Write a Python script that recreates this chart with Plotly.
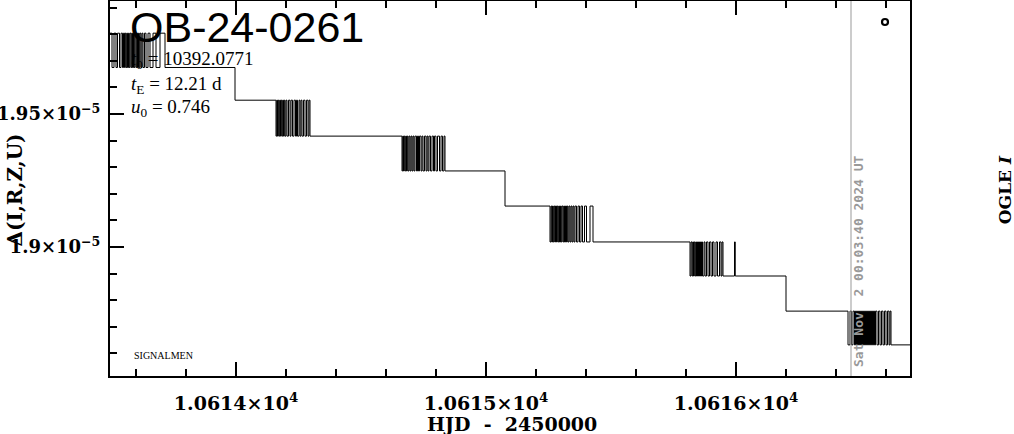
import plotly.graph_objects as go

# Flux levels (units of 1e-5)
levels = [1.9804, 1.9675, 1.9552, 1.9417, 1.9286, 1.9154, 1.9019, 1.8891, 1.8759, 1.8632]

# Plateau / step points: (HJD-2450000, level index)
steps_start = [(10613.496, 0)]
step_2 = [(10613.996, 2)]
step_5 = [(10615.076, 5)]
spike_e = [(10615.994, 6), (10615.997, 7)]
step_8 = [(10616.200, 8)]
end_pt = [(10616.696, 9)]

# Noisy blocks: transition times, flipping between an upper and lower level
block_a_t = [10613.504, 10613.512, 10613.520, 10613.526, 10613.534, 10613.540, 10613.546, 10613.550,
             10613.554, 10613.557, 10613.560, 10613.563, 10613.566, 10613.570, 10613.573, 10613.576,
             10613.580, 10613.583, 10613.586, 10613.590, 10613.593, 10613.596, 10613.600, 10613.603,
             10613.606, 10613.610, 10613.613, 10613.616, 10613.620, 10613.624, 10613.628, 10613.634,
             10613.640, 10613.648, 10613.656, 10613.668, 10613.680, 10613.696, 10613.716]
block_b_t = [10614.160, 10614.163, 10614.166, 10614.169, 10614.172, 10614.175, 10614.178, 10614.181,
             10614.184, 10614.187, 10614.190, 10614.193, 10614.196, 10614.200, 10614.204, 10614.210,
             10614.216, 10614.220, 10614.226, 10614.232, 10614.238, 10614.242, 10614.246, 10614.252,
             10614.256, 10614.260, 10614.264, 10614.270, 10614.276, 10614.282, 10614.288, 10614.292,
             10614.296]
block_c_t = [10614.664, 10614.667, 10614.670, 10614.673, 10614.676, 10614.679, 10614.682, 10614.685,
             10614.688, 10614.692, 10614.696, 10614.700, 10614.704, 10614.708, 10614.712, 10614.716,
             10614.722, 10614.726, 10614.730, 10614.734, 10614.740, 10614.744, 10614.748, 10614.754,
             10614.760, 10614.764, 10614.768, 10614.772, 10614.778, 10614.784, 10614.790, 10614.794,
             10614.800, 10614.806, 10614.814, 10614.820, 10614.826, 10614.832, 10614.836]
block_d_t = [10615.256, 10615.260, 10615.263, 10615.266, 10615.269, 10615.272, 10615.275, 10615.278,
             10615.282, 10615.285, 10615.288, 10615.291, 10615.294, 10615.298, 10615.301, 10615.304,
             10615.308, 10615.311, 10615.314, 10615.318, 10615.322, 10615.325, 10615.328, 10615.332,
             10615.336, 10615.340, 10615.344, 10615.348, 10615.352, 10615.356, 10615.362, 10615.368,
             10615.374, 10615.380, 10615.386, 10615.394, 10615.402, 10615.416, 10615.428]
block_e_t = [10615.816, 10615.820, 10615.824, 10615.827, 10615.830, 10615.833, 10615.836, 10615.839,
             10615.842, 10615.846, 10615.850, 10615.854, 10615.858, 10615.862, 10615.866, 10615.872,
             10615.876, 10615.882, 10615.888, 10615.894, 10615.900, 10615.906, 10615.912, 10615.920,
             10615.926, 10615.934, 10615.940, 10615.944, 10615.948]
block_f_t = [10616.448, 10616.456, 10616.462, 10616.468, 10616.474, 10616.478, 10616.482, 10616.486,
             10616.490, 10616.494, 10616.498, 10616.502, 10616.506, 10616.510, 10616.514, 10616.518,
             10616.522, 10616.526, 10616.530, 10616.534, 10616.538, 10616.542, 10616.546, 10616.550,
             10616.554, 10616.558, 10616.564, 10616.570, 10616.576, 10616.582, 10616.588, 10616.594,
             10616.600, 10616.606, 10616.612, 10616.616, 10616.620]
# (times, upper level index, lower level index)
blocks = {"a": (block_a_t, 0, 1), "b": (block_b_t, 2, 3), "c": (block_c_t, 3, 4),
          "d": (block_d_t, 5, 6), "e": (block_e_t, 6, 7), "f": (block_f_t, 8, 9)}

now_hjd = 10616.460
now_label = "Sat Nov\u00a0\u00a02 00:03:40 2024 UT"
marker_pt = (10616.596, 1.9846)

x_tickvals = [10614, 10615, 10616]
x_ticktext = ["1.0614×10<sup>4</sup>", "1.0615×10<sup>4</sup>", "1.0616×10<sup>4</sup>"]
y_tickvals = [1.90e-5, 1.95e-5]
y_ticktext = ["1.9×10<sup>−5</sup>", "1.95×10<sup>−5</sup>"]


def block_pts(name):
    times, up, lo = blocks[name]
    return [(t, lo if i % 2 == 0 else up) for i, t in enumerate(times)]


seq = (steps_start + block_pts("a") + step_2 + block_pts("b") + block_pts("c") + step_5
       + block_pts("d") + block_pts("e") + spike_e + step_8 + block_pts("f") + end_pt)
hjd = [p[0] for p in seq]
delta = [levels[p[1]] * 1e-5 for p in seq]

fig = go.Figure()
fig.add_trace(go.Scatter(x=hjd, y=delta, mode="lines", line=dict(color="black", width=1, shape="hv"),
                         showlegend=False, hoverinfo="skip"))
fig.add_trace(go.Scatter(x=[marker_pt[0]], y=[marker_pt[1] * 1e-5], mode="markers",
                         marker=dict(symbol="circle-open", size=6, color="black", line=dict(width=2.2)),
                         showlegend=False, hoverinfo="skip"))
fig.add_shape(type="line", xref="x", yref="paper", x0=now_hjd, x1=now_hjd, y0=0, y1=1,
              line=dict(color="#999999", width=1))

serif = "DejaVu Serif"
tickfont = dict(family=serif, size=19, color="black", weight="bold")
fig.update_xaxes(range=[10613.496, 10616.696], tickvals=x_tickvals, ticktext=x_ticktext,
                 ticks="inside", ticklen=14, tickwidth=1.5, tickcolor="black",
                 minor=dict(dtick=0.2, tick0=10614, ticks="inside", ticklen=7, tickwidth=1.5, tickcolor="black"),
                 showline=True, linewidth=2, linecolor="black", mirror="allticks", automargin=False,
                 showgrid=False, zeroline=False, tickfont=tickfont, ticklabelstandoff=9)
fig.update_yaxes(range=[1.8515e-5, 1.9925e-5], tickvals=y_tickvals, ticktext=y_ticktext,
                 ticks="inside", ticklen=14, tickwidth=1.5, tickcolor="black",
                 minor=dict(dtick=1e-7, tick0=1.9e-5, ticks="inside", ticklen=7, tickwidth=1.5, tickcolor="black"),
                 showline=True, linewidth=2, linecolor="black", mirror=True, automargin=False,
                 showgrid=False, zeroline=False, tickfont=dict(family=serif, size=18, color="black", weight="bold"),
                 ticklabelstandoff=4)

nb = "\u00a0"
ann = []
ann.append(dict(text="OB-24-0261", x=0.022, y=1.0, xref="paper", yref="paper", xanchor="left", yanchor="top",
                showarrow=False, font=dict(family="Liberation Sans", size=43, color="black")))
param_font = dict(family="Liberation Serif", size=19, color="black")
ann.append(dict(text=f"<i>t</i><sub>0</sub>{nb}={nb}10392.0771", x=0.024, y=0.843, xref="paper", yref="paper",
                xanchor="left", yanchor="middle", showarrow=False, font=param_font))
ann.append(dict(text=f"<i>t</i><sub>E</sub>{nb}={nb}12.21{nb}d", x=0.024, y=0.776, xref="paper", yref="paper",
                xanchor="left", yanchor="middle", showarrow=False, font=param_font))
ann.append(dict(text=f"<i>u</i><sub>0</sub>{nb}={nb}0.746", x=0.024, y=0.715, xref="paper", yref="paper",
                xanchor="left", yanchor="middle", showarrow=False, font=param_font))
ann.append(dict(text="SIGNALMEN", x=0.028, y=0.056, xref="paper", yref="paper", xanchor="left",
                yanchor="middle", showarrow=False, font=dict(family="Liberation Serif", size=10, color="black")))
ann.append(dict(text="OGLE <i>I</i>", x=1.119, y=0.496, xref="paper", yref="paper", xanchor="center",
                yanchor="middle", textangle=-90, showarrow=False,
                font=dict(family=serif, size=17, color="black", weight="bold")))
ann.append(dict(text=now_label, x=0.935, y=0.304, xref="paper", yref="paper", xanchor="center",
                yanchor="middle", textangle=-90, showarrow=False,
                font=dict(family="DejaVu Sans Mono", size=13, color="#999999", weight="bold")))
ann.append(dict(text=f"HJD{nb}{nb}-{nb}{nb}2450000", x=0.5025, y=-0.128, xref="paper", yref="paper",
                xanchor="center", yanchor="middle", showarrow=False,
                font=dict(family=serif, size=19, color="black", weight="bold")))
ann.append(dict(text="Δ(I,R,Z,U)", x=-0.119, y=0.497, xref="paper", yref="paper", xanchor="center",
                yanchor="middle", textangle=-90, showarrow=False,
                font=dict(family=serif, size=20, color="black", weight="bold")))

fig.update_layout(width=1014, height=434, margin=dict(l=110, r=104, t=1, b=58),
                  plot_bgcolor="white", paper_bgcolor="white", annotations=ann)
fig.write_html("out.html", post_script="document.body.style.margin='0';",
               config={"displayModeBar": False})
